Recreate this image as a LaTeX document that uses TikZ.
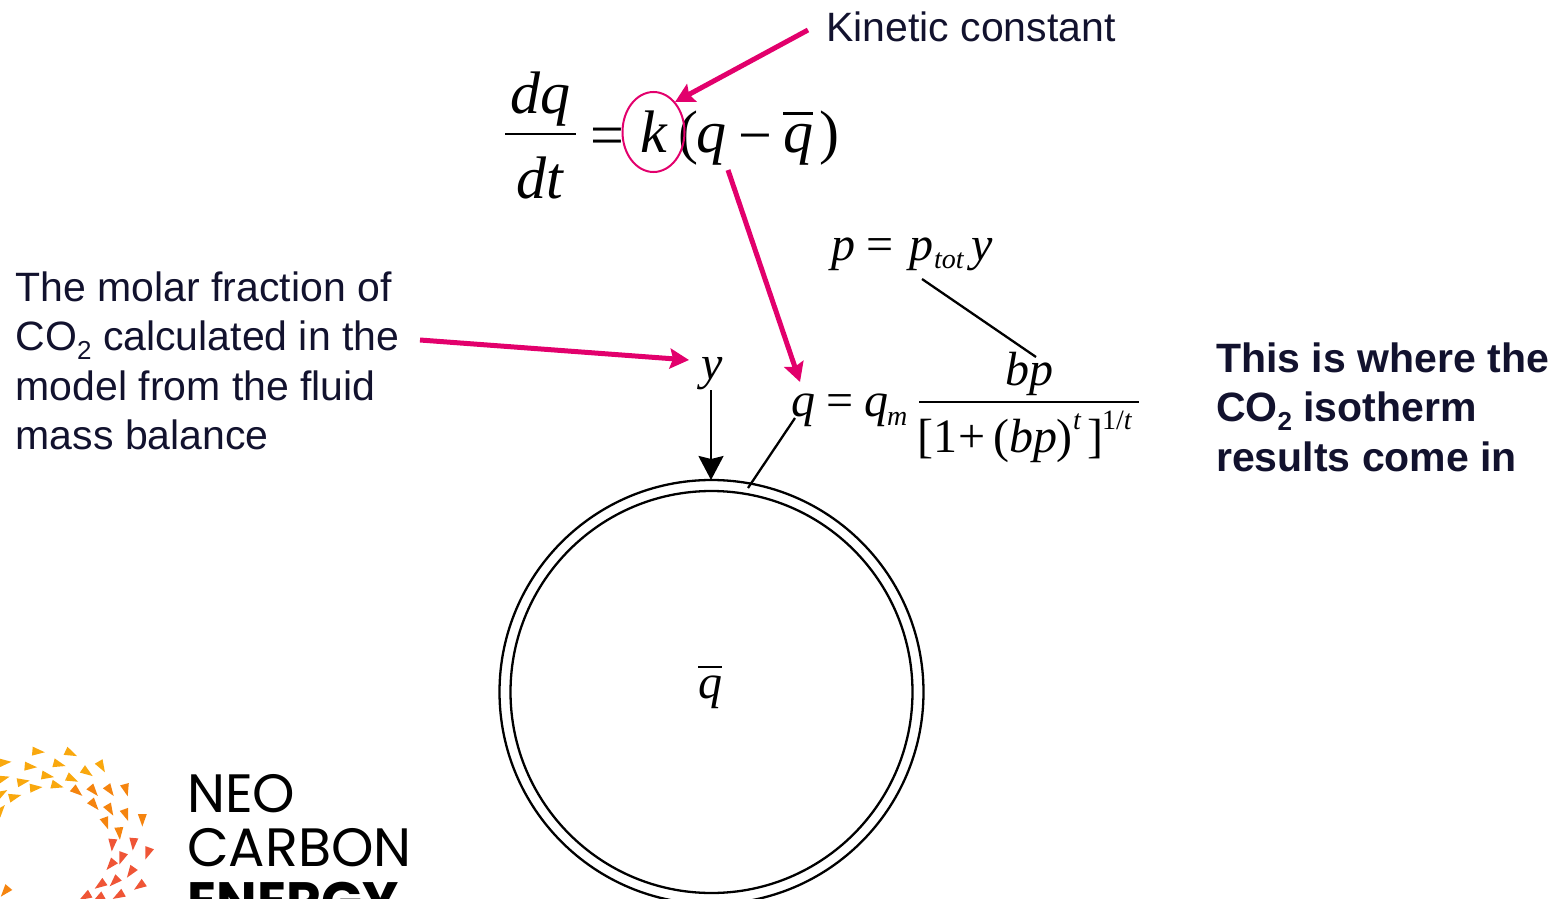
\documentclass[tikz,border=0pt]{standalone}
\usepackage{fontspec}
\usetikzlibrary{arrows.meta}
\setmainfont{Liberation Sans}
\newfontfamily\eqfont{Liberation Serif}
\newfontfamily\logofont{Poppins}
\definecolor{labelnavy}{HTML}{12122E}
\definecolor{arrowpink}{HTML}{E2006C}
\definecolor{logoyellow}{HTML}{F9A80E}
\definecolor{logoorange}{HTML}{F5840F}
\definecolor{logored}{HTML}{EF5536}
\newcommand{\subtwo}{\raisebox{-0.22em}{\fontsize{26}{26}\selectfont 2}}
\newcommand{\eqsize}[1]{\fontsize{#1}{#1}\eqfont\itshape}
\newcommand{\qbar}{\rlap{\raisebox{0.62em}{\rule{0.5em}{0.04em}}}q}
\begin{document}
\begin{tikzpicture}[
	x=1pt, y=-1pt,
	label/.style={inner sep=0pt, anchor=base west, align=left, text=labelnavy, font=\fontsize{41}{49.5}\selectfont},
	boldlabel/.style={label, font=\fontsize{41}{49.5}\selectfont\bfseries},
	bigeq/.style={inner sep=0pt, anchor=base, font=\eqsize{60}},
	midEq/.style={inner sep=0pt, anchor=base west, font=\eqsize{48}},
	smallEq/.style={inner sep=0pt, anchor=base west, font=\eqsize{28}},
	upEq/.style={inner sep=0pt, anchor=base west, font=\fontsize{48}{48}\eqfont},
	pinkarrow/.style={-{Stealth[length=19pt,width=20pt,inset=3pt]}, line width=5pt, arrowpink},
	thinline/.style={line width=2.3pt, black},
	logotext/.style={inner sep=0pt, anchor=base west, font=\fontsize{54}{54}\logofont},
	]
	\clip (0,0) rectangle (1552,899);
	% labels
	\node[label] (kinetic) at (826,42) {Kinetic constant};
	\node[label] (molar) at (15.5,449.5) {The molar fraction of\\CO\subtwo{} calculated in the\\model from the fluid\\mass balance};
	\node[boldlabel] (isotherm) at (1216,471) {This is where the\\CO\subtwo{} isotherm\\results come in};
	% rate equation
	\node[bigeq] (dq) at (540,113) {dq};
	\node[bigeq] (dt) at (540,198) {dt};
	\draw[line width=2.5pt] (505,134) -- (576,134);
	\node[bigeq, font=\fontsize{60}{60}\eqfont] (eqsign) at (607,155) {=};
	\node[bigeq] (k) at (654,152) {k};
	\node[bigeq, font=\fontsize{60}{60}\eqfont] (lpar) at (688,152) {(};
	\node[bigeq] (q) at (711,152) {q};
	\node[bigeq, font=\fontsize{60}{60}\eqfont] (minus) at (755,155) {\textminus};
	\node[bigeq] (qmean) at (798,152) {\qbar};
	\node[bigeq, font=\fontsize{60}{60}\eqfont] (rpar) at (829,152) {)};
	\draw[arrowpink, line width=2pt] (653.5,132) ellipse (31 and 40);
	% pressure
	\node[midEq] (p) at (831,260) {p};
	\node[upEq] (peq) at (866,260) {=};
	\node[midEq] (ptot) at (909,260) {p};
	\node[smallEq] (tot) at (934,268) {tot};
	\node[midEq] (ytot) at (971,260) {y};
	% isotherm
	\node[midEq] (yin) at (701,379) {y};
	\node[midEq] (qiso) at (791,416) {q};
	\node[upEq] (qeq) at (826,416) {=};
	\node[midEq] (qm) at (864,416) {q};
	\node[smallEq] (m) at (887,425) {m};
	\draw[line width=2pt] (919,402) -- (1139,402);
	\node[midEq] (bp) at (1005,385) {bp};
	\node[upEq] (lbrack) at (917,452) {[1};
	\node[upEq] (plus) at (958,452) {+};
	\node[upEq] (lpb) at (993,452) {(};
	\node[midEq] (bpin) at (1009,452) {bp};
	\node[upEq] (rpb) at (1056,452) {)};
	\node[smallEq] (tin) at (1073,429) {t};
	\node[upEq] (rbrack) at (1087,452) {]};
	\node[inner sep=0pt, anchor=base west, font=\fontsize{28}{28}\eqfont] (oneover) at (1102,429) {1/\textit{t}};
	% particle
	\draw[thinline] (711.5,692) circle (212);
	\draw[thinline] (711.5,692) circle (201);
	\node[midEq] (qpart) at (698,698) {\qbar};
	% connectors
	\coordinate (kineticend) at (808,30);
	\coordinate (ktip) at (675,102);
	\coordinate (molarend) at (420,340);
	\coordinate (ytip) at (689,360);
	\coordinate (qstart) at (728,170);
	\coordinate (qtip) at (800,382);
	\coordinate (ptop) at (922,279);
	\coordinate (bptop) at (1036,357);
	\coordinate (qfoot) at (795,418);
	\coordinate (rim) at (748,488);
	\coordinate (ydown) at (711,390);
	\coordinate (rimtop) at (711,480);
	\draw[pinkarrow] (kineticend) -- (ktip);
	\draw[pinkarrow] (molarend) -- (ytip);
	\draw[pinkarrow] (qstart) -- (qtip);
	\draw[thinline] (ptop) -- (bptop);
	\draw[thinline] (qfoot) -- (rim);
	\draw[thinline, -{Stealth[length=24pt,width=25pt,inset=3pt]}] (ydown) -- (rimtop);
	% logo
	\foreach \tx/\ty/\ta/\tc in {
		115/65/-5/logoyellow, 213/70/-25/logoyellow, 15/97/5/logoyellow, 92/110/-5/logoyellow,
		178/103/-15/logoyellow, 305/110/-60/logoyellow, 262/127/-35/logoyellow, 10/145/15/logoyellow,
		70/155/10/logoyellow, 143/138/-10/logoyellow, 217/147/-25/logoyellow, 172/167/-15/logoyellow,
		108/173/5/logoyellow, 45/200/15/logoyellow, 5/190/30/logoyellow, 2/240/50/logoyellow,
		232/185/-40/logoorange, 281/183/-50/logoorange, 330/182/-55/logoorange, 378/180/-75/logoorange,
		283/225/-50/logoorange, 330/240/-60/logoorange, 378/255/-70/logoorange, 427/270/-90/logoorange,
		318/280/-70/logoorange, 358/310/-85/logoorange, 15/485/-130/logoorange,
		400/342/-95/logored, 337/345/-95/logored, 443/370/-110/logored, 365/385/-110/logored,
		332/405/-130/logored, 392/427/-125/logored, 343/455/-135/logored, 300/465/-145/logored,
		418/468/-145/logored, 355/497/-150/logored, 255/500/-150/logored, 295/505/-150/logored}
		\fill[\tc, shift={({\tx/3},{730+\ty/3})}, rotate=\ta] (6.5,0) -- (-6,4.5) -- (-6,-4.5) -- cycle;
	\node[logotext] (neo) at (187,812) {NEO};
	\node[logotext] (carbon) at (187,866) {CARBON};
	\node[logotext, font=\fontsize{54}{54}\logofont\bfseries] (energy) at (187,920) {ENERGY};
\end{tikzpicture}
\end{document}
